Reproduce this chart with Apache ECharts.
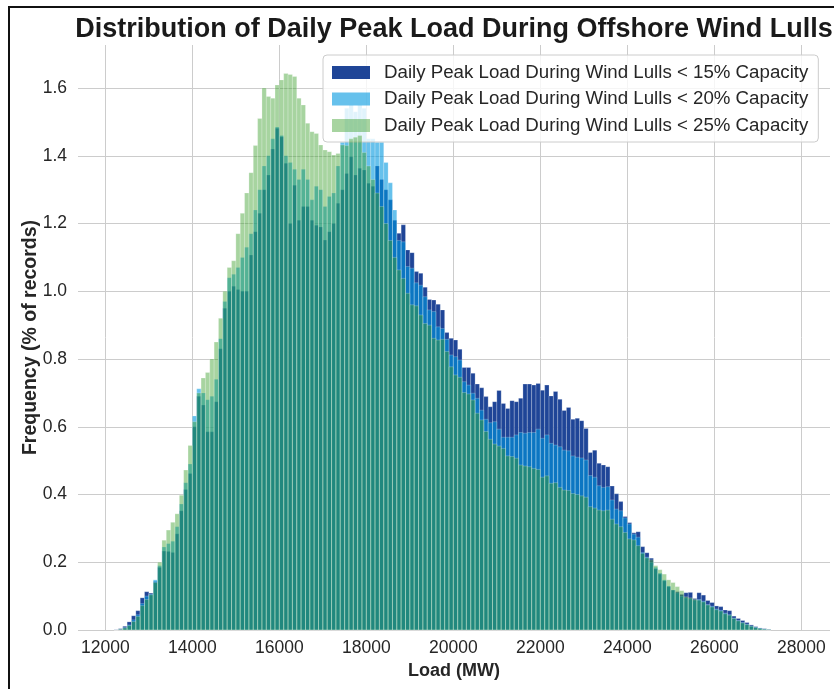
<!DOCTYPE html>
<html>
<head>
<meta charset="utf-8">
<script src="https://cdn.jsdelivr.net/npm/echarts@6/dist/echarts.min.js"></script>
<style>
  html, body { margin: 0; padding: 0; background: #ffffff; }
  #chart { width: 834px; height: 689px; }
</style>
</head>
<body>
<div id="chart"></div>
<script>
// Histogram bins: 100 MW wide, first bin starts at 12200 MW
const binStart = 12200;
const binWidth = 100;

// Share of records (%) per bin, wind output below 15% of capacity
const lull15 = [
  0.001, 0.004, 0.011, 0.024, 0.042, 0.057, 0.095, 0.113, 0.109, 0.143,
  0.185, 0.233, 0.232, 0.229, 0.284, 0.352, 0.415, 0.462, 0.600, 0.690,
  0.664, 0.585, 0.585, 0.674, 0.830, 0.950, 1.000, 1.015, 1.005, 1.000,
  1.000, 1.107, 1.176, 1.230, 1.300, 1.343, 1.420, 1.481, 1.456, 1.378,
  1.200, 1.313, 1.210, 1.250, 1.250, 1.210, 1.195, 1.190, 1.151, 1.176,
  1.200, 1.260, 1.300, 1.348, 1.397, 1.343, 1.363, 1.358, 1.319, 1.310,
  1.370, 1.330, 1.300, 1.270, 1.210, 1.171, 1.196, 1.122, 1.114, 1.058,
  1.053, 1.012, 0.976, 0.974, 0.962, 0.945, 0.878, 0.861, 0.856, 0.829,
  0.775, 0.775, 0.758, 0.726, 0.715, 0.689, 0.659, 0.674, 0.707, 0.669,
  0.654, 0.677, 0.674, 0.684, 0.726, 0.726, 0.723, 0.728, 0.708, 0.723,
  0.691, 0.704, 0.681, 0.648, 0.657, 0.622, 0.625, 0.618, 0.595, 0.524,
  0.531, 0.492, 0.487, 0.482, 0.425, 0.402, 0.379, 0.335, 0.317, 0.287,
  0.290, 0.246, 0.228, 0.212, 0.180, 0.165, 0.145, 0.128, 0.118, 0.113,
  0.105, 0.110, 0.111, 0.093, 0.110, 0.103, 0.087, 0.081, 0.071, 0.069,
  0.059, 0.057, 0.041, 0.034, 0.028, 0.022, 0.015, 0.010, 0.006, 0.004,
  0.002
];

// Wind output below 20% of capacity
const lull20 = [
  0.000, 0.002, 0.007, 0.015, 0.030, 0.045, 0.078, 0.100, 0.106, 0.148,
  0.190, 0.245, 0.255, 0.262, 0.305, 0.372, 0.435, 0.490, 0.632, 0.712,
  0.700, 0.680, 0.690, 0.740, 0.860, 0.970, 1.040, 1.050, 1.070, 1.100,
  1.130, 1.170, 1.240, 1.300, 1.370, 1.400, 1.450, 1.485, 1.460, 1.400,
  1.380, 1.360, 1.330, 1.360, 1.330, 1.270, 1.310, 1.300, 1.250, 1.280,
  1.290, 1.370, 1.440, 1.540, 1.550, 1.530, 1.550, 1.540, 1.450, 1.450,
  1.440, 1.440, 1.380, 1.320, 1.240, 1.150, 1.146, 1.073, 1.068, 1.025,
  1.018, 0.984, 0.945, 0.940, 0.895, 0.890, 0.858, 0.812, 0.807, 0.797,
  0.733, 0.723, 0.699, 0.684, 0.649, 0.622, 0.612, 0.615, 0.593, 0.569,
  0.569, 0.569, 0.576, 0.583, 0.581, 0.583, 0.583, 0.593, 0.566, 0.576,
  0.551, 0.546, 0.541, 0.531, 0.529, 0.514, 0.510, 0.508, 0.502, 0.456,
  0.451, 0.426, 0.421, 0.423, 0.384, 0.357, 0.352, 0.331, 0.313, 0.283,
  0.274, 0.229, 0.215, 0.200, 0.185, 0.168, 0.148, 0.130, 0.118, 0.110,
  0.100, 0.095, 0.092, 0.088, 0.090, 0.085, 0.075, 0.070, 0.062, 0.058,
  0.050, 0.045, 0.035, 0.028, 0.022, 0.017, 0.012, 0.008, 0.005, 0.003,
  0.001
];

// Wind output below 25% of capacity
const lull25 = [
  0.000, 0.002, 0.006, 0.013, 0.025, 0.040, 0.072, 0.090, 0.104, 0.140,
  0.200, 0.265, 0.295, 0.318, 0.343, 0.398, 0.472, 0.545, 0.615, 0.700,
  0.744, 0.760, 0.800, 0.850, 0.920, 1.000, 1.070, 1.090, 1.170, 1.230,
  1.290, 1.350, 1.430, 1.510, 1.600, 1.575, 1.570, 1.609, 1.624, 1.643,
  1.640, 1.634, 1.570, 1.550, 1.496, 1.471, 1.466, 1.432, 1.417, 1.412,
  1.402, 1.407, 1.432, 1.430, 1.450, 1.455, 1.460, 1.410, 1.370, 1.330,
  1.290, 1.250, 1.200, 1.150, 1.100, 1.063, 1.038, 0.994, 0.960, 0.957,
  0.930, 0.905, 0.900, 0.861, 0.856, 0.858, 0.822, 0.777, 0.753, 0.746,
  0.701, 0.697, 0.679, 0.640, 0.620, 0.586, 0.563, 0.549, 0.543, 0.536,
  0.514, 0.512, 0.507, 0.487, 0.484, 0.482, 0.477, 0.474, 0.451, 0.455,
  0.433, 0.435, 0.421, 0.413, 0.412, 0.403, 0.400, 0.396, 0.392, 0.364,
  0.360, 0.354, 0.352, 0.354, 0.327, 0.313, 0.305, 0.288, 0.269, 0.266,
  0.249, 0.226, 0.213, 0.207, 0.190, 0.178, 0.165, 0.148, 0.140, 0.128,
  0.116, 0.098, 0.095, 0.090, 0.088, 0.083, 0.074, 0.068, 0.060, 0.056,
  0.048, 0.044, 0.034, 0.027, 0.021, 0.016, 0.011, 0.007, 0.004, 0.002,
  0.001
];

const seriesNames = [
  'Daily Peak Load During Wind Lulls < 15% Capacity',
  'Daily Peak Load During Wind Lulls < 20% Capacity',
  'Daily Peak Load During Wind Lulls < 25% Capacity'
];

const xTicks = [12000, 14000, 16000, 18000, 20000, 22000, 24000, 26000, 28000];
const yTicks = [0, 0.2, 0.4, 0.6, 0.8, 1.0, 1.2, 1.4, 1.6];

const FONT = '"Liberation Sans", Arial, Helvetica, sans-serif';
const TEXT = '#262626';

// One rectangle per bin, from the bin's left edge to its right edge
function histSeries(name, values, fill, z) {
  return {
    type: 'custom',
    name: name,
    z: z,
    itemStyle: { color: fill },
    encode: { x: 0, y: 1 },
    data: values.map((v, k) => [binStart + k * binWidth, v]),
    renderItem: function (params, api) {
      const left = api.value(0);
      const topLeft = api.coord([left, api.value(1)]);
      const bottomRight = api.coord([left + binWidth, 0]);
      return {
        type: 'rect',
        shape: {
          x: topLeft[0],
          y: topLeft[1],
          width: bottomRight[0] - topLeft[0],
          height: bottomRight[1] - topLeft[1]
        },
        style: { fill: fill, stroke: 'rgba(255,255,255,0.45)', lineWidth: 0.5 }
      };
    },
    animation: false
  };
}

const chart = echarts.init(document.getElementById('chart'), null, { renderer: 'canvas' });

chart.setOption({
  backgroundColor: '#ffffff',
  animation: false,
  textStyle: { fontFamily: FONT },
  title: {
    text: 'Distribution of Daily Peak Load During Offshore Wind Lulls',
    left: 454,
    top: 16,
    padding: 0,
    textAlign: 'center',
    textStyle: { fontFamily: FONT, fontSize: 27, fontWeight: 'bold', color: '#1a1a1a' }
  },
  grid: { left: 78, right: 4, top: 45, bottom: 59, containLabel: false },
  legend: {
    orient: 'vertical',
    left: 323,
    top: 55,
    padding: [8, 10, 7, 9],
    itemGap: 7.5,
    itemWidth: 38,
    itemHeight: 13,
    icon: 'rect',
    backgroundColor: 'rgba(255,255,255,0.8)',
    borderColor: '#cccccc',
    borderWidth: 1,
    borderRadius: 4,
    textStyle: { fontFamily: FONT, fontSize: 18.7, color: TEXT, padding: [0, 0, 0, 9] },
    data: seriesNames
  },
  xAxis: {
    type: 'value',
    min: 11370,
    max: 28660,
    name: 'Load (MW)',
    nameLocation: 'middle',
    nameGap: 30,
    nameTextStyle: { fontFamily: FONT, fontSize: 18, fontWeight: 'bold', color: TEXT },
    axisLine: { show: false },
    axisTick: { show: false, customValues: xTicks },
    axisLabel: {
      customValues: xTicks,
      formatter: v => String(Math.round(v)),
      fontFamily: FONT, fontSize: 17.5, color: TEXT, margin: 9
    },
    splitLine: { show: true, lineStyle: { color: '#cccccc', width: 1 } }
  },
  yAxis: {
    type: 'value',
    min: 0,
    max: 1.727,
    name: 'Frequency (% of records)',
    nameLocation: 'middle',
    nameGap: 37,
    nameMoveOverlap: false,
    nameTextStyle: { fontFamily: FONT, fontSize: 19.5, fontWeight: 'bold', color: TEXT },
    axisLine: { show: false },
    axisTick: { show: false, customValues: yTicks },
    axisLabel: {
      customValues: yTicks,
      formatter: v => v.toFixed(1),
      fontFamily: FONT, fontSize: 17.5, color: TEXT, margin: 11
    },
    splitLine: { show: true, lineStyle: { color: '#cccccc', width: 1 } }
  },
  series: [
    histSeries(seriesNames[0], lull15, '#1f4597', 2),
    histSeries(seriesNames[1], lull20, 'rgba(0,152,223,0.6)', 3),
    histSeries(seriesNames[2], lull25, 'rgba(60,160,45,0.45)', 4)
  ],
  graphic: [{
    type: 'rect',
    silent: true,
    z: 100,
    shape: { x: 9, y: 7, width: 900, height: 800 },
    style: { fill: 'none', stroke: '#111111', lineWidth: 2 }
  }]
});
</script>
</body>
</html>
